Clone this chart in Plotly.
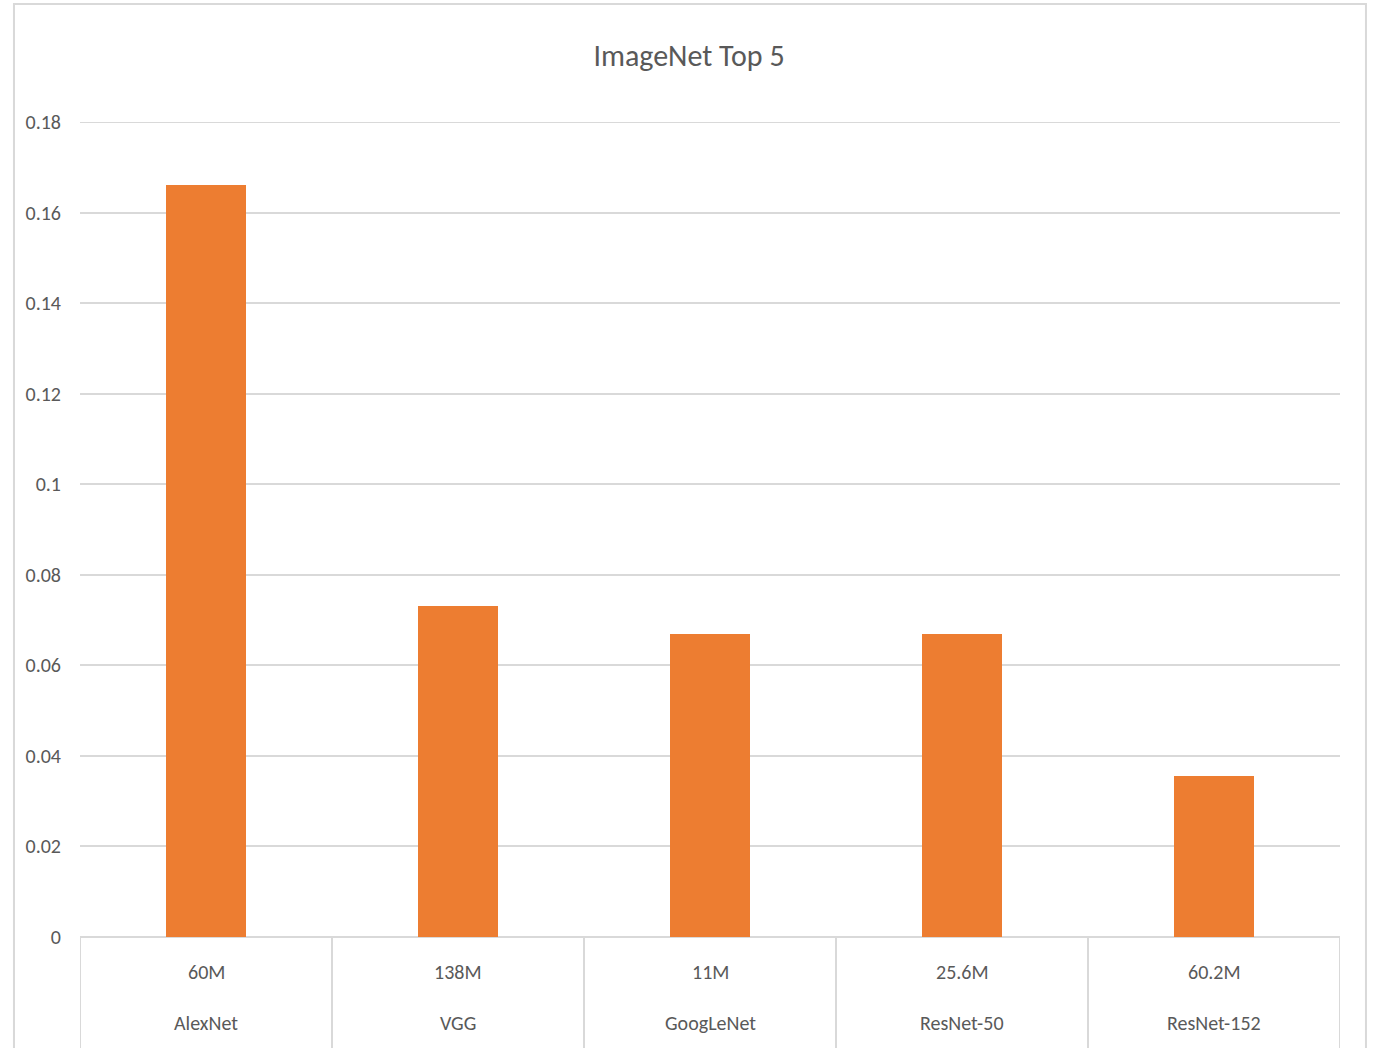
import plotly.graph_objects as go

# ImageNet top-5 error by architecture, with parameter counts
models = ["AlexNet", "VGG", "GoogLeNet", "ResNet-50", "ResNet-152"]
params = ["60M", "138M", "11M", "25.6M", "60.2M"]
top5_error = [0.166, 0.073, 0.067, 0.067, 0.0355]
y_ticks = [0, 0.02, 0.04, 0.06, 0.08, 0.1, 0.12, 0.14, 0.16, 0.18]
y_tick_text = ["0", "0.02", "0.04", "0.06", "0.08", "0.1", "0.12", "0.14", "0.16", "0.18"]
y_max = 0.18

FONT = "Carlito, Liberation Sans Narrow, DejaVu Sans Condensed, sans-serif"
TEXT = "#595959"
GRID = "#d9d9d9"

positions = list(range(len(models)))

fig = go.Figure(
    go.Bar(
        x=positions,
        y=top5_error,
        width=0.314,
        marker=dict(color="#ED7D31", line=dict(width=0)),
        hoverinfo="y",
    )
)

# Two-level category labels under the axis: parameter count, then model name
annotations = []
for i, (p, m) in enumerate(zip(params, models)):
    annotations.append(dict(x=i, y=-0.043, xref="x", yref="paper", text=p,
                            showarrow=False, yanchor="middle",
                            font=dict(family=FONT, size=20, color=TEXT)))
    annotations.append(dict(x=i, y=-0.1055, xref="x", yref="paper", text=m,
                            showarrow=False, yanchor="middle",
                            font=dict(family=FONT, size=20, color=TEXT)))

# Category dividers running down from the axis line
shapes = []
for b in [i - 0.5 for i in range(len(models) + 1)]:
    shapes.append(dict(type="line", xref="x", yref="paper", x0=b, x1=b,
                       y0=0, y1=-0.2, line=dict(color=GRID, width=2)))

# Gridline along the top of the value range
shapes.append(dict(type="line", xref="paper", yref="y", x0=0, x1=1,
                   y0=y_max, y1=y_max, line=dict(color=GRID, width=2),
                   layer="below"))

# Chart-area border
shapes.append(dict(type="rect", xref="paper", yref="paper",
                   x0=-0.0524, x1=1.0206, y0=-0.2, y1=1.1448,
                   line=dict(color=GRID, width=2), layer="below"))

fig.update_layout(
    width=1378,
    height=1048,
    margin=dict(l=80, r=38, t=122, b=111),
    paper_bgcolor="white",
    plot_bgcolor="white",
    showlegend=False,
    title=dict(text="ImageNet Top 5", x=0.5, xanchor="center",
               y=1 - 55 / 1048, yanchor="middle",
               font=dict(family=FONT, size=30, color=TEXT)),
    xaxis=dict(range=[-0.5, len(models) - 0.5], showticklabels=False,
               showgrid=False, zeroline=False, showline=False, ticks="",
               fixedrange=True),
    yaxis=dict(range=[0, y_max], tickvals=y_ticks, ticktext=y_tick_text,
               showgrid=True, gridcolor=GRID, gridwidth=2,
               zeroline=True, zerolinecolor=GRID, zerolinewidth=2,
               showline=False, ticks="", ticklabelstandoff=18,
               tickfont=dict(family=FONT, size=20, color=TEXT),
               fixedrange=True),
    annotations=annotations,
    shapes=shapes,
    bargap=0,
)

fig.write_html("out.html")
